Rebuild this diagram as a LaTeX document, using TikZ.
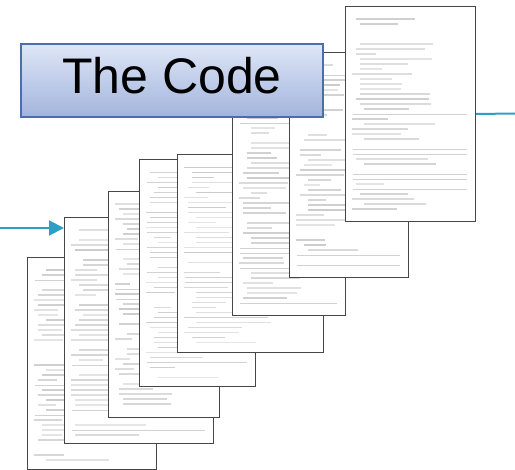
\documentclass[tikz,border=0pt]{standalone}
\usepackage{fontspec}
\setmainfont{Liberation Sans}
\usetikzlibrary{arrows.meta,calc}

\definecolor{flowteal}{RGB}{44,160,196}
\definecolor{pageedge}{RGB}{70,70,70}
\definecolor{titleedge}{RGB}{74,110,170}
\definecolor{titletop}{RGB}{222,230,246}
\definecolor{titlebottom}{RGB}{163,180,221}

\tikzset{
  codepage/.style={draw=pageedge, line width=1bp, fill=white, inner sep=0pt, anchor=north west},
  codeline/.style={line width=1.7bp, line cap=butt},
  coderule/.style={line width=0.8bp, draw=gray!35},
  titlebox/.style={draw=titleedge, line width=2bp, top color=titletop, bottom color=titlebottom,
    minimum width=302bp, minimum height=73bp, inner sep=0pt, text depth=11bp,
    font=\fontsize{50bp}{58bp}\selectfont},
  flow/.style={draw=flowteal, line width=2bp},
}

% Fill a page node with rows of blurred-looking listing lines
\newcommand\listingrows[4]{%
  \pgfmathsetseed{#4}%
  \pgfmathtruncatemacro\nrows{(#3-16)/5}%
  \foreach \k in {1,...,\nrows}{%
    \pgfmathrandominteger{\kind}{0}{11}%
    \pgfmathrandominteger{\ind}{0}{3}%
    \pgfmathrandominteger{\shade}{20}{40}%
    \pgfmathsetmacro\len{(0.15+0.5*rnd)*(#2-16)}%
    \ifnum\kind<2\relax
    \else\ifnum\kind=2\relax
      \draw[coderule] ($(#1.north west)+(8,8+5*\k)$) -- ++(#2-16,0);
    \else
      \draw[codeline, draw=gray!\shade] ($(#1.north west)+(7+4*\ind,8+5*\k)$) -- ++(\len,0);
    \fi\fi
  }%
}

\newcommand\listingpage[7]{% name, left, top, width, height, seed
  \node[codepage, minimum width=#4bp, minimum height=#5bp] (#1) at (#2,#3) {};
  \listingrows{#1}{#4}{#5}{#6}%
}

\begin{document}
\begin{tikzpicture}[x=1bp,y=-1bp]
  \useasboundingbox (0,0) rectangle (515,470);

  % stack of listing pages, back to front
  \listingpage{p1}{26.5}{257}{129.5}{212}{11}{}
  \listingpage{p2}{64}{217}{149}{226}{23}{}
  \listingpage{p3}{107.5}{191}{111.5}{226}{37}{}
  \listingpage{p4}{138.5}{159.5}{116.5}{226.5}{41}{}
  \listingpage{p5}{177}{154.5}{146}{197.5}{53}{}
  \listingpage{p6}{231.5}{105}{113.5}{210}{67}{}
  \listingpage{p7}{288.5}{52}{119.5}{225}{71}{}
  \listingpage{p8}{344.5}{6}{130.5}{215}{89}{}

  % incoming and outgoing flow
  \coordinate (in) at (0,228);
  \coordinate (out) at (515,113.5);
  \draw[flow, -{Triangle[length=15bp,width=15bp]}] (in) -- (in -| p2.west);
  \draw[flow] (p8.east) -- (out);

  % title
  \node[titlebox] (title) at (172,80.5) {The Code};
\end{tikzpicture}
\end{document}
